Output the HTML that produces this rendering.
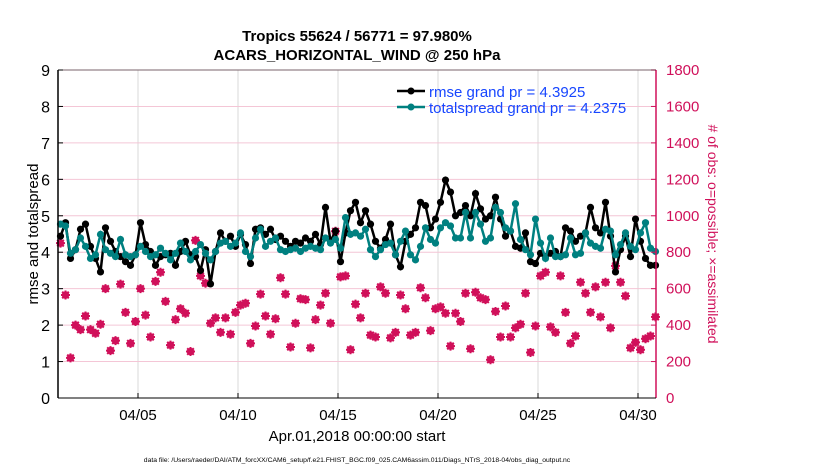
<!DOCTYPE html>
<html><head><meta charset="utf-8"><style>
html,body{margin:0;padding:0;background:#fff;}
svg{display:block;font-family:"Liberation Sans",Arial,sans-serif;}
</style></head><body>
<svg id="chart" width="830" height="470" viewBox="0 0 830 470">
<rect width="830" height="470" fill="#fff"/>
<text x="357" y="41" text-anchor="middle" font-size="15" font-weight="bold">Tropics 55624 / 56771 = 97.980%</text>
<text x="357" y="60" text-anchor="middle" font-size="15" font-weight="bold">ACARS_HORIZONTAL_WIND @ 250 hPa</text>
<g id="grid"></g>
<g id="obs"></g>
<g id="lines"></g>
<g id="axes"></g>
<text transform="translate(38,234) rotate(-90)" text-anchor="middle" font-size="15">rmse and totalspread</text>
<text transform="translate(708,234) rotate(90)" text-anchor="middle" font-size="14" fill="#d0105a"># of obs: o=possible; ×=assimilated</text>
<text x="357" y="441" text-anchor="middle" font-size="15">Apr.01,2018 00:00:00 start</text>
<text x="357" y="462" text-anchor="middle" font-size="6.8">data file: /Users/raeder/DAI/ATM_forcXX/CAM6_setup/f.e21.FHIST_BGC.f09_025.CAM6assim.011/Diags_NTrS_2018-04/obs_diag_output.nc</text>
<g>
<line x1="397" y1="91" x2="425" y2="91" stroke="#000" stroke-width="2.5"/>
<circle cx="411" cy="91" r="3.5" fill="#000"/>
<text x="429" y="97" font-size="15" fill="#1746ff">rmse grand pr = 4.3925</text>
<line x1="397" y1="107" x2="425" y2="107" stroke="#008080" stroke-width="2.5"/>
<circle cx="411" cy="107" r="3.5" fill="#008080"/>
<text x="429" y="113" font-size="15" fill="#1746ff">totalspread grand pr = 4.2375</text>
</g>
</svg>
<script>
const rmse=[4.44,4.81,3.83,4.07,4.63,4.77,4.16,3.83,3.46,4.67,4.30,4.02,3.88,3.74,3.64,3.93,4.81,4.21,4.02,3.64,3.88,3.93,3.97,3.64,4.02,4.30,3.93,3.88,3.50,4.07,3.13,4.02,4.53,4.30,4.44,4.16,4.49,4.21,3.69,4.63,4.67,
4.49,4.63,4.35,4.44,4.30,4.16,4.30,4.25,4.39,4.30,4.49,4.21,5.23,4.30,4.58,3.74,4.53,5.14,5.37,4.81,5.14,4.77,4.30,4.11,4.35,4.77,3.93,3.60,4.30,4.49,4.67,5.37,5.28,4.67,4.91,5.37,5.98,5.65,5.00,5.09,5.28,
5.00,5.61,5.19,4.91,5.00,5.51,4.91,4.44,4.58,4.16,4.11,4.53,3.74,3.69,3.97,3.88,3.97,4.02,3.88,4.67,4.58,4.30,4.44,4.53,5.23,4.67,4.53,5.37,4.44,3.46,4.07,4.44,3.88,4.91,4.30,3.83,3.64,3.64];
const spread=[4.77,4.72,3.97,4.07,4.39,4.16,3.83,3.93,4.49,4.07,3.97,3.88,4.35,3.93,3.88,3.93,4.16,4.02,3.88,3.93,4.11,3.97,3.79,3.97,4.25,4.02,3.79,4.02,4.21,3.97,3.79,4.02,4.25,4.30,4.16,4.25,4.53,4.02,3.88,4.39,4.63,
4.16,4.30,4.39,4.07,4.02,4.07,4.11,4.02,4.11,4.16,4.11,4.07,4.39,4.25,4.35,4.11,4.95,4.49,4.53,4.44,4.63,4.07,3.88,4.07,4.21,4.25,3.93,4.30,4.58,3.93,3.79,4.16,4.67,4.35,4.25,4.67,4.81,4.72,4.39,4.39,5.09,
4.39,5.09,4.77,4.30,4.39,5.23,5.09,4.67,4.58,5.33,4.35,4.07,3.93,4.91,4.25,3.83,4.39,3.88,3.88,3.93,4.39,3.93,3.97,4.53,4.25,4.16,4.11,4.63,4.58,3.93,4.21,4.53,4.16,4.07,4.53,4.81,4.11,4.02];
const nobs=[850,565,220,400,375,450,375,355,405,600,260,315,625,470,300,420,600,455,335,640,690,530,290,430,490,465,255,865,670,630,410,440,360,440,350,470,510,520,300,395,570,
450,350,435,660,570,280,410,545,540,275,430,510,575,410,915,665,670,265,515,440,575,345,335,610,575,330,360,565,490,345,360,605,550,370,490,500,465,285,465,420,575,
270,580,550,540,210,475,335,505,335,385,405,575,250,395,670,690,390,360,670,470,300,340,635,575,470,610,445,635,385,725,635,560,275,305,265,325,340,445];
const yTicks=[0,1,2,3,4,5,6,7,8,9];
const y2Ticks=[0,200,400,600,800,1000,1200,1400,1600,1800];
const xTickDays=[5,10,15,20,25,30];
const xTickLabels=["04/05","04/10","04/15","04/20","04/25","04/30"];

const L=58,R=656,T=70,B=398,NS="http://www.w3.org/2000/svg";
const xs=d=>L+(d-1)*(R-L)/29.9;
const ys=v=>B-v*(B-T)/9;
const y2=v=>B-v*(B-T)/1800;
const tday=i=>1.125+i*0.25;
function mk(tag,attrs,parent){const e=document.createElementNS(NS,tag);for(const k in attrs)e.setAttribute(k,attrs[k]);parent.appendChild(e);return e;}
const grid=document.getElementById('grid'),axes=document.getElementById('axes'),obs=document.getElementById('obs'),lines=document.getElementById('lines');
xTickDays.forEach((d,i)=>{
  const g=mk('line',{x1:xs(d),x2:xs(d),y1:T,y2:B,stroke:'#d8d8d8','stroke-width':1},grid);
  
  
  mk('line',{x1:xs(d),x2:xs(d),y1:B,y2:B-5,stroke:'#000'},axes);
  const t=mk('text',{x:xs(d),y:B+22,'text-anchor':'middle','font-size':15},axes);
  t.textContent=xTickLabels[i];
  
  
});
y2Ticks.forEach(v=>{
  const g=mk('line',{x1:L,x2:R,y1:y2(v),y2:y2(v),stroke:'#f4c6d6','stroke-width':1},grid);
  
  
  mk('line',{x1:R,x2:R-5,y1:y2(v),y2:y2(v),stroke:'#d0105a'},axes);
  const t=mk('text',{x:R+10,y:y2(v)+5,'font-size':15,fill:'#d0105a'},axes);
  t.textContent=v;
  
  
});
yTicks.forEach(v=>{
  mk('line',{x1:L,x2:L+5,y1:ys(v),y2:ys(v),stroke:'#000'},axes);
  const t=mk('text',{x:L-8,y:ys(v)+6,'text-anchor':'end','font-size':16},axes);
  t.textContent=v;
  
  
});
const a1=mk('line',{x1:L,x2:L,y1:T,y2:B,stroke:'#000','stroke-width':1.5},axes);


const a2=mk('line',{x1:R,x2:R,y1:T,y2:B,stroke:'#d0105a','stroke-width':1.5},axes);


const a3=mk('line',{x1:L,x2:R,y1:B,y2:B,stroke:'#000','stroke-width':1},axes);


const a4=mk('line',{x1:L,x2:R,y1:T,y2:T,stroke:'#000','stroke-width':0.6},axes);



nobs.forEach((v,i)=>{
  const x=xs(tday(i)),y=y2(v);
  const g=mk('g',{},obs);
  
  
  mk('circle',{cx:x,cy:y,r:3,fill:'none',stroke:'#d0105a','stroke-width':1.4},g);
  mk('path',{d:`M${x-4.5},${y}L${x+4.5},${y}M${x},${y-4.5}L${x},${y+4.5}M${x-3.3},${y-3.3}L${x+3.3},${y+3.3}M${x-3.3},${y+3.3}L${x+3.3},${y-3.3}`,stroke:'#d0105a','stroke-width':2},g);
});
function series(arr,color,name){
  const p=mk('polyline',{points:arr.map((v,i)=>xs(tday(i))+','+ys(v)).join(' '),fill:'none',stroke:color,'stroke-width':2.5},lines);
  
  
  arr.forEach((v,i)=>{
    const c=mk('circle',{cx:xs(tday(i)),cy:ys(v),r:3.6,fill:color},lines);
    
    
  });
}
series(rmse,'#000','rmse');
series(spread,'#008080','totalspread');
</script>
</body></html>
